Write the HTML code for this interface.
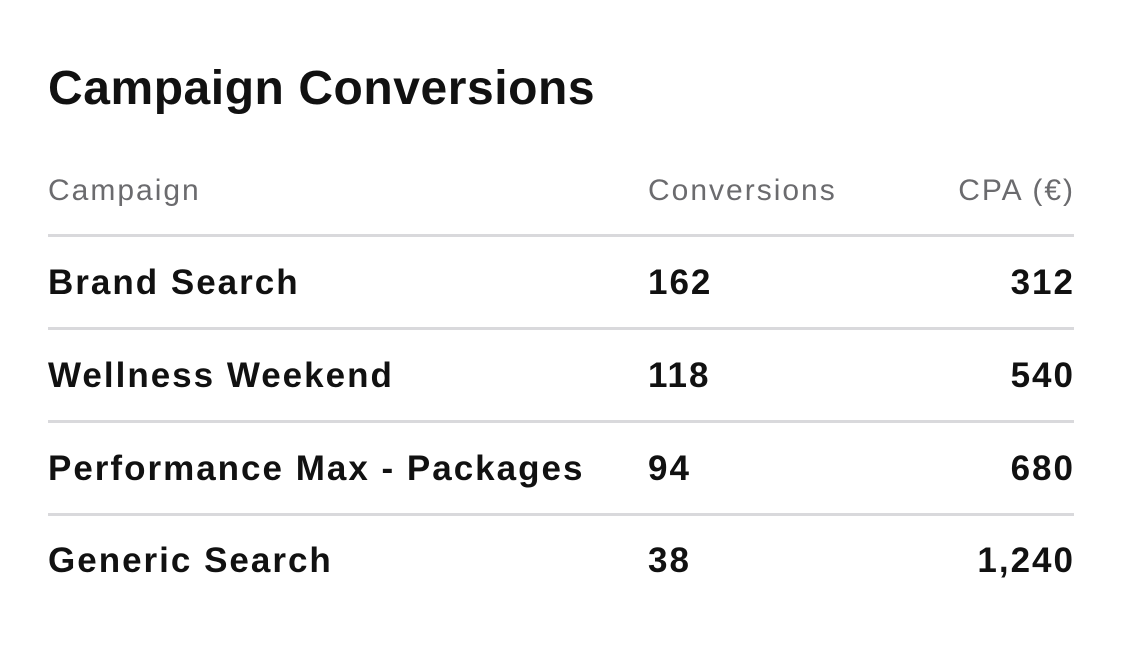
<!DOCTYPE html>
<html><head><meta charset="utf-8"><style>
html,body{margin:0;padding:0;background:#fff;width:1122px;height:660px;overflow:hidden;font-family:"Liberation Sans",sans-serif;}
.t{position:absolute;line-height:1;white-space:nowrap;}
.title{left:48px;top:65px;font-size:48px;font-weight:bold;color:#111;letter-spacing:0.55px;}
.h{font-size:30px;color:#6b6b6e;letter-spacing:2px;top:176px;}
.r{font-size:35px;font-weight:bold;color:#111;letter-spacing:2px;}
.c1{left:48px}.c2{left:648px}.c3{right:47px;text-align:right}
.line{position:absolute;left:48px;width:1026px;height:3px;background:#d9d9dc;}
</style></head><body>
<div class="t title">Campaign Conversions</div>
<div class="t h c1">Campaign</div>
<div class="t h c2">Conversions</div>
<div class="t h c3">CPA (€)</div>
<div class="line" style="top:234px"></div>
<div class="t r c1" style="top:265px">Brand Search</div>
<div class="t r c2" style="top:265px">162</div>
<div class="t r c3" style="top:265px">312</div>
<div class="line" style="top:327px"></div>
<div class="t r c1" style="top:358px">Wellness Weekend</div>
<div class="t r c2" style="top:358px">118</div>
<div class="t r c3" style="top:358px">540</div>
<div class="line" style="top:420px"></div>
<div class="t r c1" style="top:451px">Performance Max - Packages</div>
<div class="t r c2" style="top:451px">94</div>
<div class="t r c3" style="top:451px">680</div>
<div class="line" style="top:513px"></div>
<div class="t r c1" style="top:543px">Generic Search</div>
<div class="t r c2" style="top:543px">38</div>
<div class="t r c3" style="top:543px">1,240</div>
</body></html>
